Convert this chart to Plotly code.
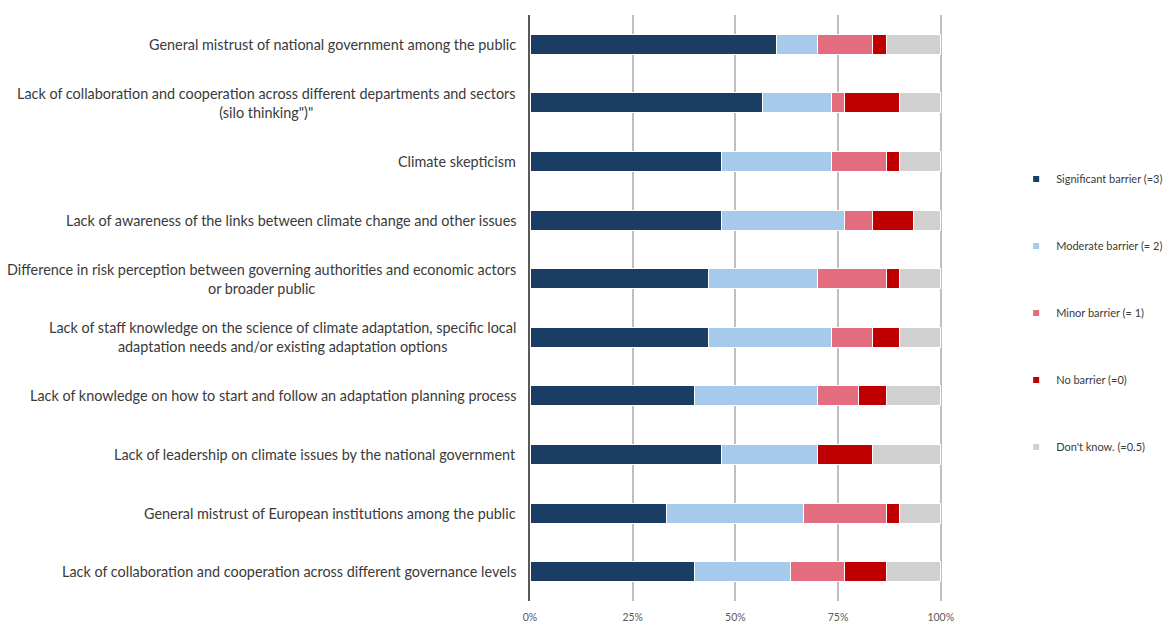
import plotly.graph_objects as go

# Barriers to adaptation, ranked as shown (top to bottom)
barriers = [
    "General mistrust of national government among the public",
    "Lack of collaboration and cooperation across different departments and sectors<br>(silo thinking\")\"",
    "Climate skepticism",
    "Lack of awareness of the links between climate change and other issues",
    "Difference in risk perception between governing authorities and economic actors<br>or broader public",
    "Lack of staff knowledge on the science of climate adaptation, specific local<br>adaptation needs and/or existing adaptation options",
    "Lack of knowledge on how to start and follow an adaptation planning process",
    "Lack of leadership on climate issues by the national government",
    "General mistrust of European institutions among the public",
    "Lack of collaboration and cooperation across different governance levels",
]

# Number of respondents per rating (30 respondents)
significant = [18, 17, 14, 14, 13, 13, 12, 14, 10, 12]
moderate    = [3, 5, 8, 9, 8, 9, 9, 7, 10, 7]
minor       = [4, 1, 4, 2, 5, 3, 3, 0, 6, 4]
no_barrier  = [1, 4, 1, 3, 1, 2, 2, 4, 1, 3]
dont_know   = [4, 3, 3, 2, 3, 3, 4, 5, 3, 4]

series_names = [
    "Significant barrier (=3)",
    "Moderate barrier (= 2)",
    "Minor barrier (= 1)",
    "No barrier (=0)",
    "Don't know. (=0.5)",
]
series_values = [significant, moderate, minor, no_barrier, dont_know]
series_colors = ["#193d63", "#a6caec", "#e36c7f", "#c00000", "#d0d0d0"]

tick_vals = [0, 25, 50, 75, 100]
tick_text = ["0%", "25%", "50%", "75%", "100%"]

FONT = "Lato, 'Open Sans', sans-serif"
TEXT = "#3a3a3a"

fig = go.Figure()

for name, vals, col in zip(series_names, series_values, series_colors):
    fig.add_trace(go.Bar(
        y=barriers, x=vals, orientation="h", name=name,
        marker=dict(color=col, line=dict(color="white", width=1)),
        showlegend=False, hoverinfo="x+name",
    ))

# small square legend swatches
for i, (name, col) in enumerate(zip(series_names, series_colors)):
    fig.add_trace(go.Scatter(
        x=[None], y=[None], mode="markers", name=name,
        marker=dict(symbol="square", size=6, color=col),
        legendgroup=f"g{i}", showlegend=True,
    ))

# category labels, lines centred within each label block
for b in barriers:
    fig.add_annotation(
        x=0, xref="paper", y=b, yref="y", text=b, showarrow=False,
        xanchor="right", yanchor="middle", align="center", xshift=-12,
        font=dict(family=FONT, size=14.4, color=TEXT),
    )

fig.update_layout(
    barmode="stack",
    barnorm="percent",
    bargap=0.66,
    width=1164, height=621,
    margin=dict(l=530, r=222, t=15, b=20, autoexpand=False),
    paper_bgcolor="white", plot_bgcolor="white",
    legend=dict(
        x=1.18, xanchor="left", xref="paper", y=0.745, yanchor="top",
        font=dict(family=FONT, size=11, color=TEXT),
        tracegroupgap=48, itemwidth=30, bgcolor="rgba(0,0,0,0)",
        traceorder="grouped",
    ),
    xaxis=dict(
        range=[0, 100.3], tickvals=tick_vals, ticktext=tick_text,
        showgrid=True, gridcolor="#bfbfbf", gridwidth=1.5,
        zeroline=False, showline=False, ticks="", ticklabelstandoff=8,
        tickfont=dict(family=FONT, size=10.5, color="#595959"),
    ),
    yaxis=dict(
        autorange="reversed", showticklabels=False, ticks="",
        showgrid=False, showline=True, linecolor="#595959", linewidth=1.5,
        zeroline=False,
    ),
)

fig.write_html("out.html")
